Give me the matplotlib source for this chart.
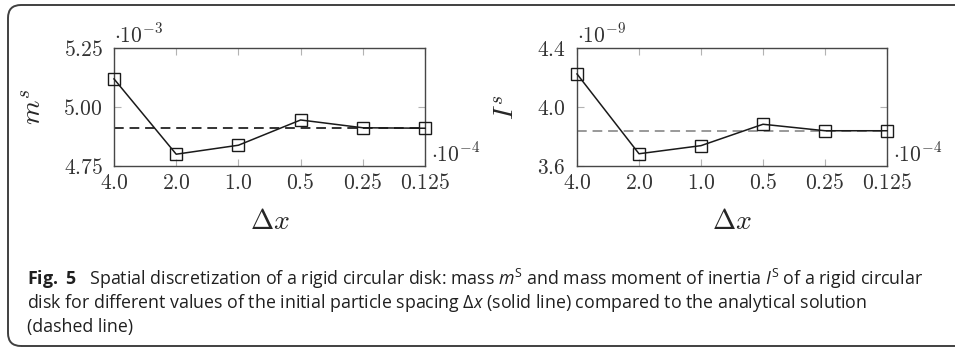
import numpy as np
import matplotlib.pyplot as plt
from matplotlib.patches import FancyBboxPatch
from matplotlib.transforms import IdentityTransform

#-------------------------------------------------------------------------------------------------

dx = [4.0e-4, 2.0e-4, 1.0e-4, 0.5e-4, 0.25e-4, 0.125e-4]
dxLabels = ["4.0", "2.0", "1.0", "0.5", "0.25", "0.125"]

mass = [5.119, 4.800, 4.838, 4.945, 4.912, 4.910]      # x 1e-3
massExact = 4.909
inertia = [4.224, 3.683, 3.738, 3.883, 3.839, 3.839]   # x 1e-9
inertiaExact = 3.835

W, H = 955, 349

#-------------------------------------------------------------------------------------------------

def px(x0, y0, x1, y1):
	# pixel box (top-left origin) -> figure fractions
	return [x0 / W, 1 - y1 / H, (x1 - x0) / W, (y1 - y0) / H]

def drawPanel(ax, vals, exact, ylim, yticks, ylabels, ylab, yexp, dashColor, ylabX):
	ax.plot(dx, vals, color='0.1', lw=1.1, marker='s', ms=8, mfc='none', mec='0.1', mew=1.0, zorder=3, clip_on=False)
	ax.axhline(exact, color=dashColor, lw=1.4, ls=(0, (5, 3)), zorder=2)
	ax.set_xscale('log', base=2)
	ax.set_xlim(dx[0], dx[-1])
	ax.set_ylim(ylim)
	ax.set_xticks(dx)
	ax.set_xticklabels([r'$%s$' % l for l in dxLabels])
	ax.minorticks_off()
	ax.set_yticks(yticks)
	ax.set_yticklabels([r'$%s$' % l for l in ylabels])
	ax.tick_params(direction='in', length=5, width=0.8, color='0.7', labelsize=15.5,
		top=True, right=True, labelcolor='0.2')
	ax.tick_params(axis='x', pad=5)
	ax.tick_params(axis='y', pad=8)
	for s in ax.spines.values():
		s.set_color('0.28')
		s.set_linewidth(1.0)
	ax.set_xlabel(r'$\Delta x$', fontsize=20, labelpad=10, color='0.15')
	ax.set_ylabel(ylab, fontsize=20, color='0.15')
	ax.yaxis.set_label_coords(ylabX, 0.5)
	ax.text(0.0, 1.01, r'$\cdot 10^{%d}$' % yexp, transform=ax.transAxes, fontsize=15.5, color='0.2', ha='left', va='bottom')
	ax.text(1.02, 0.0, r'$\cdot 10^{-4}$', transform=ax.transAxes, fontsize=15.5, color='0.2', ha='left', va='bottom')

#-------------------------------------------------------------------------------------------------

plt.rcParams['mathtext.fontset'] = 'cm'

fig = plt.figure(figsize=(W / 100, H / 100), dpi=100)

ax1 = fig.add_axes(px(114, 48, 425, 166))
drawPanel(ax1, mass, massExact, (4.75, 5.25), [4.75, 5.0, 5.25], ["4.75", "5.00", "5.25"], r'$m^s$', -3, '0.2', -0.215)

ax2 = fig.add_axes(px(577, 48, 887, 166))
drawPanel(ax2, inertia, inertiaExact, (3.6, 4.4), [3.6, 4.0, 4.4], ["3.6", "4.0", "4.4"], r'$I^s$', -9, '0.6', -0.184)

# rounded frame around the figure
frame = FancyBboxPatch((8, 3), 1000, 341, boxstyle="round,pad=0,rounding_size=13",
	transform=IdentityTransform(), fill=False, ec='0.25', lw=1.4)
fig.patches.append(frame)

capFont = dict(fontsize=12.8, color='0.12', family='Open Sans', math_fontfamily='custom')
plt.rcParams['mathtext.rm'] = 'Open Sans'
plt.rcParams['mathtext.it'] = 'Open Sans:italic'
plt.rcParams['mathtext.bf'] = 'Open Sans:bold'

lines = [r'$\mathbf{Fig.\ 5}$   Spatial discretization of a rigid circular disk: mass $m^{\mathrm{S}}$ and mass moment of inertia $I^{\mathrm{S}}$ of a rigid circular',
	r'disk for different values of the initial particle spacing $\Delta x$ (solid line) compared to the analytical solution',
	'(dashed line)']
for i, l in enumerate(lines):
	fig.text(27 / W, 1 - (279 + 24 * i) / H, l, va='center', ha='left', **capFont)

plt.savefig('out.png', dpi=100)
